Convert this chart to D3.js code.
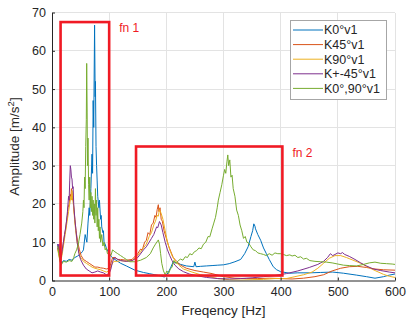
<!DOCTYPE html>
<html>
<head>
<meta charset="utf-8">
<script src="https://cdn.jsdelivr.net/npm/d3@7"></script>
<style>
  body { margin: 0; background: #fff; }
  text { font-family: "Liberation Sans", Arial, sans-serif; }
</style>
</head>
<body>
<div id="chart"></div>
<script>
// series values: [frequency Hz, amplitude m/s^2]
const k0v1 = [[10,9.5],[12,8],[14,5.5],[17,4.5],[20,5.2],[25,5],[30,5.5],[35,5.3],[40,6],[45,6.4],[50,7],[53,7.5],[55,8],[58,12],[61,10],[63,15],[65,19],[66,17],[68,24],[70,33],[71,28],[72,47],[73,40],[74.5,66.7],[75.5,48],[76,52],[77,35],[78,30],[79,26],[80,22],[82,19],[83,21],[85,16],[86,17],[87,14],[89,12.5],[90,13],[91,10],[93,9.5],[95,8.5],[100,7],[105,6],[110,5.5],[120,4.5],[130,3.8],[145,2.7],[160,2.1],[170,1.8],[180,1.5],[190,1.2],[197,0.9],[203,2],[208,3.5],[212,4.9],[218,4.6],[225,4.2],[235,3.8],[248,3.6],[250,4.8],[252,3.6],[260,3.7],[270,3.8],[280,3.9],[290,4],[300,4.1],[310,4.4],[320,4.9],[330,5.5],[337,7],[343,8.8],[348,11.5],[351,13],[353,14.8],[355,14.2],[356,13.5],[360,12],[365,10.5],[370,8.5],[375,7],[380,5.5],[387,3.6],[393,2.8],[400,2.3],[416,1.9],[430,2],[451,2],[470,2.1],[491,2.2],[510,1.9],[533,1.4],[550,1],[565,0.6],[580,1],[590,1.4],[600,1.7]];

const k45v1 = [[10,8.5],[12,7],[14,5.5],[16,6],[18,8],[20,10],[22,12],[24,13.5],[25,15],[27,17],[28,19],[30,20],[31,21.5],[32,22.5],[33,21.8],[34,24],[35,23],[36,21],[37,21.5],[38,19],[40,16],[42,13],[45,10],[48,8],[51,6.5],[55,5.5],[60,5],[65,4.5],[70,4],[75,3.5],[80,3.5],[85,3.3],[90,3.2],[95,3],[100,3.2],[103,4.5],[106,6],[110,6],[115,5.5],[120,5.5],[130,5.3],[140,5.5],[150,7],[155,8.2],[158,8],[162,10],[165,10.5],[168,12.5],[171,12],[174,14.5],[177,15],[180,17],[182,16.5],[184,18.5],[186,19.8],[187,18],[189,19],[191,16],[193,15.5],[196,13],[200,11],[204,9],[208,7.5],[212,6],[218,5],[225,4],[235,3.2],[250,2.6],[265,2.2],[280,1.8],[300,1],[320,0.6],[340,0.5],[360,0.5],[380,0.6],[400,0.5],[420,0.4],[440,0.6],[460,1],[475,1.5],[490,2.5],[505,3.2],[520,3.6],[535,3.7],[550,3.4],[565,3],[580,2.8],[600,2.7]];

const k90v1 = [[10,8],[12,6.5],[14,5],[16,5.5],[18,7],[20,9],[23,12],[26,15],[29,18],[31,20],[33,22],[34,21],[35,23.5],[36,22],[38,19],[40,15],[43,11],[46,8],[50,6],[55,5],[60,4.5],[65,4],[70,3.5],[75,3.2],[80,3],[85,2.8],[90,2.5],[95,2.2],[100,2.5],[104,4],[108,5],[115,5],[120,5.2],[130,5],[140,5.2],[150,6.5],[160,8.5],[165,9.5],[170,11.5],[174,12.5],[178,14.5],[181,15.5],[184,17],[186,16.8],[188,18.5],[191,17.5],[194,16],[198,13],[202,10],[206,8],[210,6.5],[216,5],[222,4],[230,3],[245,2.2],[260,1.5],[275,1],[290,0.5],[310,0.2],[330,0.1],[350,0.2],[370,0.3],[390,0.5],[410,0.5],[425,1],[440,1.5],[455,2.2],[465,3.2],[475,4.5],[485,5.8],[495,6.5],[505,6.5],[515,6],[525,5.4],[540,4.5],[550,3.7],[565,2.6],[580,1.6],[590,1.1],[600,0.8]];

const kpm45v1 = [[10,9.5],[11,8],[12,9.5],[14,7],[16,6],[18,8],[20,10],[22,12],[25,15],[27,18],[29,22],[30,21],[31,26],[32,30],[33,29],[34,27],[35,26.5],[36,24],[37,24.5],[38,20],[40,16],[42,13],[44,10],[47,7],[50,5.5],[55,4],[60,3],[65,2.5],[70,2],[75,2.2],[80,2.5],[85,2.2],[90,2],[95,1.5],[100,1.8],[103,3],[106,5],[110,6],[115,5.5],[120,5.2],[130,5],[140,5.2],[150,6],[160,8],[165,8.8],[170,10],[174,11],[178,12],[181,13.2],[183,14],[185,13.8],[188,15.4],[191,14.5],[194,12.5],[198,10],[202,8],[206,6.5],[210,5.2],[215,4],[222,3],[230,2.3],[240,1.7],[255,1.2],[270,0.8],[290,0.5],[310,0.4],[330,0.5],[350,0.7],[370,1],[390,1.3],[410,1.8],[430,2.5],[450,3.4],[465,4.2],[475,5],[482,6],[487,7],[491,6.5],[495,6.8],[500,7.2],[505,7],[508,7.3],[512,6.8],[520,6.3],[530,5.5],[540,4.6],[550,3.8],[562,3],[575,2.6],[590,2.2],[600,2]];

const k0k90v1 = [[10,9],[12,7],[14,5],[16,4],[18,4.5],[20,5],[25,4.8],[30,5.2],[35,5],[38,6],[40,7],[43,8],[46,9.5],[49,12],[52,15],[54,18],[55,21],[56,19],[57,27],[58,24],[59,35],[60,42],[60.7,56.7],[61.5,44],[62,30],[63,37.2],[64,25],[65,21],[66,27],[67,19],[68,23],[69,18],[70,22],[71,17],[72,21],[73,16],[74,20],[75,15],[76,24],[77,17],[78,21],[79,14],[80,19],[81,13],[82,16],[83,11],[84,14],[85,10],[87,12],[89,9],[91,10],[93,8],[95,8.5],[97,7],[100,7.2],[103,6.5],[106,8],[110,7.5],[115,7],[120,6.5],[125,6],[130,5.5],[136,4.9],[145,4.9],[155,5.3],[165,6],[172,7],[177,8.5],[181,9.5],[186,10.6],[188,9.5],[190,7],[192,4.5],[195,2.5],[198,1.5],[201,2.5],[204,1.8],[207,3],[210,3.5],[213,5.2],[217,4.4],[221,5.2],[225,5.6],[229,5.3],[233,6.2],[237,6],[241,7],[245,6.7],[249,7.5],[253,7.8],[257,8.5],[261,8.3],[265,9.5],[269,10],[273,11.5],[276,11.4],[280,13.5],[283,15],[286,16.5],[289,19],[291,21],[294,23],[297,25],[300,27.5],[302,29],[304,28],[306,31],[307.5,32.8],[309,30],[311,31.5],[313,27],[315,27.5],[317,24],[320,22],[323,18.4],[326,17],[329,14.5],[332,13],[335,11],[338,11.5],[341,10],[344,9.8],[348,8.8],[352,8],[356,7.8],[360,7.2],[365,7],[370,6.8],[375,6.5],[380,7],[385,6.6],[390,7.2],[395,7],[400,7],[405,6.8],[410,6.5],[416,6.7],[420,6.4],[425,6.6],[430,6],[435,6.2],[440,5.6],[445,5.8],[451,5.2],[460,5],[470,4.9],[480,4.8],[490,4.6],[500,4.3],[510,4],[520,3.9],[533,3.8],[545,4.2],[555,4.6],[565,4.8],[575,4.5],[585,4.4],[595,4.3],[600,4.2]];

const seriesNames = ['K0°v1', 'K45°v1', 'K90°v1', 'K+-45°v1', 'K0°,90°v1'];
const seriesColors = ['#0072BD', '#D95319', '#EDB120', '#7E2F8E', '#77AC30'];
const allSeries = [k0v1, k45v1, k90v1, kpm45v1, k0k90v1];

const xTicks = [0, 100, 200, 300, 400, 500, 600];
const yTicks = [0, 10, 20, 30, 40, 50, 60, 70];

// highlighted regions: [f0, f1, a0, a1]
const boxLabels = ['fn 1', 'fn 2'];
const boxRanges = [[15, 100, 1.3, 67.5], [147, 403, 1.3, 35]];

const W = 407, H = 323;
const margin = { top: 12.5, right: 12, bottom: 42.5, left: 52 };
const width = W - margin.left - margin.right;
const height = H - margin.top - margin.bottom;

const svg = d3.select('#chart').append('svg')
  .attr('width', W)
  .attr('height', H);

const g = svg.append('g')
  .attr('transform', 'translate(' + margin.left + ',' + margin.top + ')');

const x = d3.scaleLinear().domain([0, 600]).range([0, width]);
const y = d3.scaleLinear().domain([0, 70]).range([height, 0]);

// grid
g.append('g').selectAll('line').data(xTicks.slice(1)).join('line')
  .attr('x1', d => x(d)).attr('x2', d => x(d))
  .attr('y1', 0).attr('y2', height)
  .attr('stroke', '#e3e3e3').attr('stroke-width', 1)
  .attr('shape-rendering', 'crispEdges');
g.append('g').selectAll('line').data(yTicks.slice(1)).join('line')
  .attr('x1', 0).attr('x2', width)
  .attr('y1', d => y(d)).attr('y2', d => y(d))
  .attr('stroke', '#e3e3e3').attr('stroke-width', 1)
  .attr('shape-rendering', 'crispEdges');

svg.append('defs').append('clipPath').attr('id', 'clip')
  .append('rect').attr('width', width).attr('height', height);

const line = d3.line()
  .x(d => x(d[0]))
  .y(d => y(d[1]));

const plot = g.append('g').attr('clip-path', 'url(#clip)');
allSeries.forEach((s, i) => {
  plot.append('path')
    .datum(s)
    .attr('fill', 'none')
    .attr('stroke', seriesColors[i])
    .attr('stroke-width', 1)
    .attr('stroke-linejoin', 'round')
    .attr('d', line);
});

// axes
const xAxis = g.append('g')
  .attr('transform', 'translate(0,' + height + ')')
  .call(d3.axisBottom(x).tickValues(xTicks).tickSizeInner(-3).tickSizeOuter(0).tickPadding(7));
const yAxis = g.append('g')
  .call(d3.axisLeft(y).tickValues(yTicks).tickSizeInner(-3).tickSizeOuter(0).tickPadding(6));
[xAxis, yAxis].forEach(a => {
  a.select('.domain').attr('stroke', '#262626');
  a.selectAll('.tick line').attr('stroke', '#262626');
  a.selectAll('.tick text')
    .attr('fill', '#262626')
    .style('font-size', '12.5px')
    .style('font-family', '"Liberation Sans", Arial, sans-serif');
});

// highlight boxes
boxRanges.forEach((b, i) => {
  g.append('rect')
    .attr('x', x(b[0])).attr('y', y(b[3]))
    .attr('width', x(b[1]) - x(b[0]))
    .attr('height', y(b[2]) - y(b[3]))
    .attr('fill', 'none')
    .attr('stroke', '#f01a24')
    .attr('stroke-width', 2.6);
  g.append('text')
    .attr('x', x(b[1]) + 10)
    .attr('y', y(b[3]) + 10)
    .attr('fill', '#f01a24')
    .style('font-size', '12px')
    .text(boxLabels[i]);
});

// axis labels
svg.append('text')
  .attr('x', margin.left + width / 2)
  .attr('y', 315)
  .attr('text-anchor', 'middle')
  .attr('fill', '#262626')
  .style('font-size', '13.5px')
  .text('Freqency [Hz]');

const yl = svg.append('text')
  .attr('transform', 'translate(19,' + (margin.top + height / 2) + ') rotate(-90)')
  .attr('text-anchor', 'middle')
  .attr('fill', '#262626')
  .style('font-size', '13.5px');
yl.append('tspan').text('Amplitude [m/s');
yl.append('tspan').attr('dy', -5).style('font-size', '9.5px').text('2');
yl.append('tspan').attr('dy', 5).text(']');

// legend
const lg = svg.append('g').attr('transform', 'translate(290,20)');
lg.append('rect')
  .attr('width', 96).attr('height', 79)
  .attr('fill', '#fff')
  .attr('stroke', '#a6a6a6')
  .attr('stroke-width', 1)
  .attr('shape-rendering', 'crispEdges');
seriesNames.forEach((n, i) => {
  const yy = 10 + i * 14.6;
  lg.append('line')
    .attr('x1', 3).attr('x2', 33)
    .attr('y1', yy).attr('y2', yy)
    .attr('stroke', seriesColors[i]).attr('stroke-width', 1);
  lg.append('text')
    .attr('x', 34).attr('y', yy + 4.3)
    .attr('fill', '#262626')
    .style('font-size', '12.5px')
    .text(n);
});
</script>
</body>
</html>
